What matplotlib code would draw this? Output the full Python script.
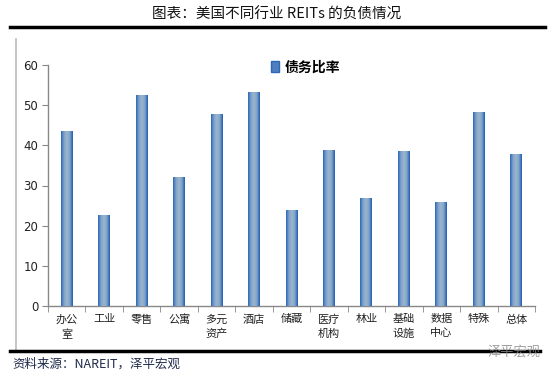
import matplotlib
matplotlib.use("Agg")
import matplotlib.pyplot as plt
import numpy as np
from matplotlib.colors import LinearSegmentedColormap
from matplotlib.lines import Line2D
from matplotlib.patches import Rectangle

plt.rcParams['font.family'] = ['Noto Sans CJK SC', 'DejaVu Sans']

categories = ["办公\n室", "工业", "零售", "公寓", "多元\n资产", "酒店", "储藏",
              "医疗\n机构", "林业", "基础\n设施", "数据\n中心", "特殊", "总体"]
debt_ratio = [43.6, 22.6, 52.6, 32.1, 47.8, 53.3, 23.9, 38.8, 26.8, 38.6, 25.9, 48.3, 37.9]
yticks = [0, 10, 20, 30, 40, 50, 60]
series_name = "债务比率"
title = "图表：美国不同行业 REITs 的负债情况"
source = "资料来源：NAREIT，泽平宏观"

W, H = 553, 376
fig = plt.figure(figsize=(W / 100, H / 100), dpi=100)
ax = fig.add_axes([48 / W, 1 - 306 / H, (535 - 48) / W, (306 - 65) / H])

x = np.arange(len(categories))
bw = 0.32
bars = ax.bar(x, debt_ratio, width=bw, color="#7FA0C6", edgecolor="none", zorder=2)

cmap = LinearSegmentedColormap.from_list(
    "grad", ["#2A68B8", "#7FA3CB", "#9DB4CC", "#7FA3CB", "#1E5CB0"])
grad = np.linspace(0, 1, 64).reshape(1, -1)
for b in bars:
    x0, y0 = b.get_x(), b.get_y()
    w, h = b.get_width(), b.get_height()
    im = ax.imshow(grad, cmap=cmap, extent=[x0, x0 + w, y0, y0 + h],
                   aspect="auto", zorder=3, interpolation="bilinear")
    im.set_clip_path(b)

ax.set_xlim(-0.5, len(categories) - 0.5)
ax.set_ylim(0, 60)
ax.set_yticks(yticks)
ax.set_yticklabels([str(v) for v in yticks], fontsize=8.5, color="#222222",
                   family=['DejaVu Sans'])
ax.set_xticks(x)
ax.set_xticklabels(categories, fontsize=8, color="#222222", linespacing=1.5, va="top")
ax.tick_params(axis="x", which="major", length=0, pad=6)
ax.set_xticks(np.arange(-0.5, len(categories), 1.0), minor=True)
ax.tick_params(axis="x", which="minor", length=4, direction="out", color="#888888")
ax.tick_params(axis="y", length=4, direction="out", color="#888888", pad=3)
for s in ["top", "right"]:
    ax.spines[s].set_visible(False)
for s in ["left", "bottom"]:
    ax.spines[s].set_color("#888888")
    ax.spines[s].set_linewidth(1.0)

handle = Rectangle((0, 0), 1, 1, facecolor="#4F7FBF", edgecolor="#2A68B8")
leg = ax.legend([handle], [series_name], loc="upper left",
                bbox_to_anchor=((258 - 48) / (535 - 48), 1.07), frameon=False,
                handlelength=0.6, handleheight=0.8, handletextpad=0.4,
                prop={'family': ['Noto Sans CJK SC'], 'weight': 'bold', 'size': 10})

# Title and decorations
fig.text(0.5, 1 - 15 / H, title, ha="center", va="center", fontsize=10.5, color="#111111")
fig.add_artist(Line2D([10 / W, 545 / W], [1 - 27 / H, 1 - 27 / H], color="black", lw=2.5))
fig.add_artist(Line2D([16 / W, 16 / W], [1 - 39 / H, 1 - 350 / H], color="#BBBBBB", lw=1.2))
fig.add_artist(Line2D([10 / W, 540 / W], [1 - 351 / H, 1 - 351 / H], color="black", lw=2.5))
fig.text(12 / W, 1 - 364 / H, source, ha="left", va="center", fontsize=9,
         style="italic", color="#1F2A4A")
fig.text(540 / W, 1 - 352 / H, "泽平宏观", ha="right", va="center", fontsize=9.5,
         color="#888888", alpha=0.8)

fig.savefig("out.png", dpi=100)
